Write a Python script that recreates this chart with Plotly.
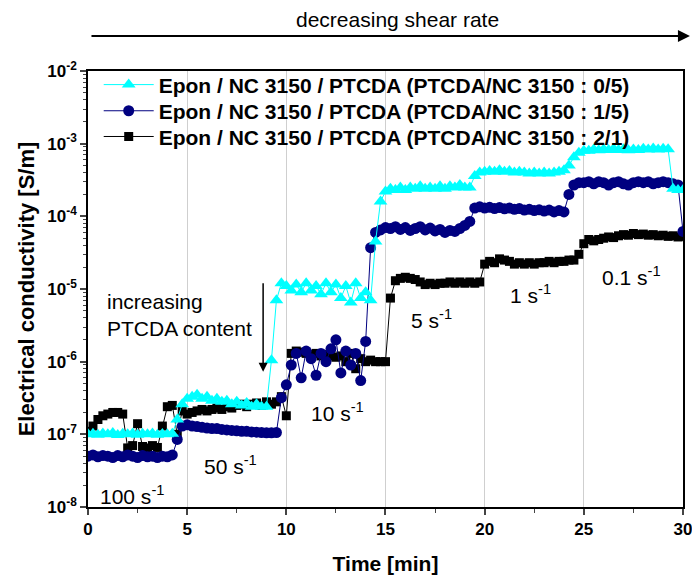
import plotly.graph_objects as go

# waktu pengukuran [min]
time_min = [
    0.0, 0.25, 0.5, 0.75, 1.0, 1.25, 1.5, 1.75, 2.0, 2.25, 2.5, 2.75, 3.0, 3.25, 3.5, 3.75, 4.0, 4.25,
    4.5, 4.75, 5.0, 5.25, 5.5, 5.75, 6.0, 6.25, 6.5, 6.75, 7.0, 7.25, 7.5, 7.75, 8.0, 8.25, 8.5, 8.75, 9.0, 9.25,
    9.5, 9.75, 10.0, 10.25, 10.5, 10.75, 11.0, 11.25, 11.5, 11.75, 12.0, 12.25, 12.5, 12.75, 13.0, 13.25, 13.5, 13.75, 14.0, 14.25,
    14.5, 14.75, 15.0, 15.25, 15.5, 15.75, 16.0, 16.25, 16.5, 16.75, 17.0, 17.25, 17.5, 17.75, 18.0, 18.25, 18.5, 18.75, 19.0, 19.25,
    19.5, 19.75, 20.0, 20.25, 20.5, 20.75, 21.0, 21.25, 21.5, 21.75, 22.0, 22.25, 22.5, 22.75, 23.0, 23.25, 23.5, 23.75, 24.0, 24.25,
    24.5, 24.75, 25.0, 25.25, 25.5, 25.75, 26.0, 26.25, 26.5, 26.75, 27.0, 27.25, 27.5, 27.75, 28.0, 28.25, 28.5, 28.75, 29.0, 29.25,
    29.5, 29.75, 30.0,
]

# PTCDA/NC 3150 : 0/5
cond_0_5 = [
    1.00e-7, 1.02e-7, 0.99e-7, 1.03e-7, 1.00e-7, 1.04e-7, 0.98e-7, 1.02e-7, 1.00e-7, 1.03e-7, 0.99e-7, 1.02e-7, 1.00e-7, 1.03e-7, 0.99e-7, 1.01e-7, 1.00e-7, 1.02e-7,
    1.6e-7, 2.6e-7, 3.1e-7, 3.3e-7, 3.5e-7, 3.1e-7, 3.3e-7, 2.9e-7, 3.1e-7, 2.8e-7, 2.9e-7, 2.6e-7, 2.8e-7, 2.5e-7, 2.7e-7, 2.4e-7, 2.6e-7, 2.4e-7, 2.4e-7, 1.05e-6,
    7.0e-6, 1.2e-5, 1.1e-5, 9.5e-6, 1.15e-5, 9.0e-6, 1.2e-5, 9.5e-6, 1.1e-5, 8.5e-6, 1.2e-5, 9.0e-6, 1.15e-5, 7.5e-6, 1.1e-5, 6.5e-6, 1.2e-5, 7.5e-6, 9.0e-6, 7.0e-6,
    4.5e-5, 1.6e-4, 2.2e-4, 2.4e-4, 2.3e-4, 2.5e-4, 2.3e-4, 2.5e-4, 2.4e-4, 2.6e-4, 2.4e-4, 2.5e-4, 2.4e-4, 2.6e-4, 2.4e-4, 2.6e-4, 2.5e-4, 2.7e-4, 2.5e-4, 2.5e-4,
    3.6e-4, 4.0e-4, 4.1e-4, 4.2e-4, 4.1e-4, 4.3e-4, 4.1e-4, 4.2e-4, 4.0e-4, 4.1e-4, 4.0e-4, 3.9e-4, 4.0e-4, 3.9e-4, 4.0e-4, 3.9e-4, 4.0e-4, 4.1e-4, 4.3e-4, 5.0e-4,
    6.5e-4, 7.5e-4, 8.0e-4, 8.0e-4, 8.3e-4, 8.1e-4, 8.4e-4, 8.2e-4, 8.5e-4, 8.2e-4, 8.4e-4, 8.1e-4, 8.3e-4, 8.2e-4, 8.5e-4, 8.3e-4, 8.6e-4, 8.3e-4, 8.5e-4, 8.4e-4,
    2.4e-4, 2.3e-4, 2.3e-4,
]

# PTCDA/NC 3150 : 1/5
cond_1_5 = [
    5.0e-8, 5.2e-8, 4.9e-8, 5.1e-8, 5.0e-8, 4.8e-8, 5.1e-8, 4.9e-8, 5.2e-8, 5.0e-8, 4.8e-8, 5.1e-8, 4.9e-8, 5.0e-8, 4.8e-8, 5.0e-8, 4.9e-8, 5.2e-8,
    8.5e-8, 1.3e-7, 1.35e-7, 1.3e-7, 1.28e-7, 1.25e-7, 1.22e-7, 1.2e-7, 1.2e-7, 1.17e-7, 1.15e-7, 1.13e-7, 1.12e-7, 1.1e-7, 1.1e-7, 1.08e-7, 1.07e-7, 1.06e-7, 1.05e-7, 1.05e-7,
    1.06e-7, 3.2e-7, 4.8e-7, 9.0e-7, 1.3e-6, 6.0e-7, 1.4e-6, 1.1e-6, 6.5e-7, 1.3e-6, 1.0e-6, 1.5e-6, 2.0e-6, 7.0e-7, 1.4e-6, 9.0e-7, 1.3e-6, 5.5e-7, 1.9e-6, 3.7e-5,
    6.0e-5, 6.5e-5, 7.0e-5, 6.8e-5, 7.2e-5, 6.6e-5, 7.0e-5, 6.4e-5, 6.8e-5, 7.2e-5, 6.5e-5, 6.9e-5, 6.3e-5, 6.6e-5, 6.0e-5, 6.4e-5, 6.2e-5, 6.8e-5, 7.5e-5, 8.5e-5,
    1.3e-4, 1.35e-4, 1.3e-4, 1.33e-4, 1.28e-4, 1.32e-4, 1.27e-4, 1.3e-4, 1.25e-4, 1.28e-4, 1.22e-4, 1.25e-4, 1.2e-4, 1.23e-4, 1.18e-4, 1.22e-4, 1.15e-4, 1.2e-4, 1.15e-4, 2.0e-4,
    2.7e-4, 2.9e-4, 2.9e-4, 3.0e-4, 2.8e-4, 3.0e-4, 2.9e-4, 2.7e-4, 2.9e-4, 3.0e-4, 2.8e-4, 2.7e-4, 2.9e-4, 3.0e-4, 2.9e-4, 3.0e-4, 2.8e-4, 2.9e-4, 3.0e-4, 2.9e-4,
    2.8e-4, 2.7e-4, 6.2e-5,
]

# PTCDA/NC 3150 : 2/1
cond_2_1 = [
    1.1e-7, 1.3e-7, 1.6e-7, 1.8e-7, 1.9e-7, 2.0e-7, 2.0e-7, 1.9e-7, 6.5e-8, 7.0e-8, 1.4e-7, 6.8e-8, 6.5e-8, 7.0e-8, 6.6e-8, 1.3e-7, 2.4e-7, 2.5e-7,
    1.0e-7, 2.1e-7, 1.9e-7, 2.0e-7, 2.1e-7, 2.2e-7, 2.1e-7, 2.2e-7, 2.3e-7, 2.2e-7, 2.4e-7, 2.3e-7, 2.5e-7, 2.6e-7, 2.4e-7, 2.6e-7, 2.7e-7, 2.5e-7, 2.8e-7, 2.6e-7,
    2.8e-7, 3.3e-7, 1.8e-7, 1.3e-6, 1.4e-6, 1.35e-6, 1.3e-6, 1.25e-6, 1.3e-6, 1.2e-6, 1.25e-6, 1.2e-6, 1.15e-6, 1.2e-6, 1.0e-6, 1.3e-6, 8.0e-7, 1.1e-6, 1.0e-6, 1.05e-6,
    1.0e-6, 1.0e-6, 1.0e-6, 7.5e-6, 1.3e-5, 1.4e-5, 1.45e-5, 1.4e-5, 1.35e-5, 1.25e-5, 1.15e-5, 1.2e-5, 1.15e-5, 1.2e-5, 1.2e-5, 1.25e-5, 1.2e-5, 1.25e-5, 1.2e-5, 1.25e-5,
    1.2e-5, 1.25e-5, 2.2e-5, 2.4e-5, 2.3e-5, 2.6e-5, 2.5e-5, 2.4e-5, 2.2e-5, 2.3e-5, 2.2e-5, 2.3e-5, 2.2e-5, 2.3e-5, 2.3e-5, 2.4e-5, 2.3e-5, 2.4e-5, 2.4e-5, 2.5e-5,
    2.5e-5, 3.0e-5, 4.2e-5, 4.8e-5, 4.6e-5, 4.8e-5, 5.0e-5, 5.2e-5, 5.1e-5, 5.4e-5, 5.6e-5, 5.5e-5, 5.8e-5, 5.6e-5, 5.7e-5, 5.5e-5, 5.6e-5, 5.4e-5, 5.5e-5, 5.3e-5,
    5.4e-5, 5.2e-5, 5.3e-5,
]

series_names = [
    "Epon / NC 3150 / PTCDA (PTCDA/NC 3150 : 2/1)",
    "Epon / NC 3150 / PTCDA (PTCDA/NC 3150 : 1/5)",
    "Epon / NC 3150 / PTCDA (PTCDA/NC 3150 : 0/5)",
]
shear_labels = ["100 s<sup>-1</sup>", "50 s<sup>-1</sup>", "10 s<sup>-1</sup>",
                "5 s<sup>-1</sup>", "1 s<sup>-1</sup>", "0.1 s<sup>-1</sup>"]
y_tick_vals = [1e-8, 1e-7, 1e-6, 1e-5, 1e-4, 1e-3, 1e-2]
y_tick_text = ["10<sup>-8</sup>", "10<sup>-7</sup>", "10<sup>-6</sup>", "10<sup>-5</sup>",
               "10<sup>-4</sup>", "10<sup>-3</sup>", "10<sup>-2</sup>"]

FONT = "Liberation Sans, Arial, sans-serif"

fig = go.Figure()

# satu legenda per seri supaya jarak baris bisa diatur
styles = [
    (cond_2_1, "black", "square", 9, "legend3"),
    (cond_1_5, "#000080", "circle", 11, "legend2"),
    (cond_0_5, "#00ffff", "triangle-up", 12, "legend"),
]
for name, (vals, col, sym, sz, lg) in zip(series_names, styles):
    fig.add_trace(go.Scatter(
        x=time_min, y=vals, name=name, mode="lines+markers",
        line=dict(color=col, width=1),
        marker=dict(color=col, symbol=sym, size=sz, line=dict(width=0)),
        legend=lg,
    ))

# minor ticks log
minor_y = [m * 10.0 ** e for e in range(-8, -2) for m in range(2, 10)]

leg_style = dict(x=0.018, xanchor="left", yanchor="middle", bgcolor="rgba(0,0,0,0)",
                 font=dict(size=21, weight="bold"), itemwidth=50)

fig.update_layout(
    width=692, height=575,
    margin=dict(l=88, r=9, t=71, b=68),
    paper_bgcolor="white", plot_bgcolor="white",
    font=dict(family=FONT, color="black"),
    showlegend=True,
    legend=dict(y=0.968, **leg_style),
    legend2=dict(y=0.908, **leg_style),
    legend3=dict(y=0.849, **leg_style),
    xaxis=dict(
        range=[0, 30.001], tickvals=[0, 5, 10, 15, 20, 25, 30],
        ticks="outside", ticklen=6, tickwidth=1.5,
        minor=dict(ticks="outside", ticklen=4, dtick=2.5, tickwidth=1.2, showgrid=False),
        showgrid=True, gridcolor="#cfcfcf", gridwidth=1,
        showline=True, linecolor="black", linewidth=1.5, mirror=True,
        zeroline=False, automargin=False, ticklabeloverflow="allow",
        tickfont=dict(size=17, weight="bold"),
        title=dict(text="Time [min]", font=dict(size=21, weight="bold"), standoff=18),
    ),
    yaxis=dict(
        type="log", range=[-8, -2],
        tickvals=y_tick_vals, ticktext=y_tick_text,
        ticks="outside", ticklen=6, tickwidth=1.5,
        minor=dict(ticks="outside", ticklen=3, tickvals=minor_y, tickwidth=1, showgrid=False),
        showgrid=False,
        showline=True, linecolor="black", linewidth=1.5, mirror=True,
        zeroline=False, automargin=False,
        tickfont=dict(size=17, weight="bold"),
        title=dict(text="Electrical conductivity [S/m]", font=dict(size=22, weight="bold"), standoff=7),
    ),
)

# label shear rate
label_pos = [(2.2, -7.83), (7.2, -7.42), (12.6, -6.69), (17.3, -5.41), (22.3, -5.07), (27.4, -4.82)]
for txt, (tx, ty) in zip(shear_labels, label_pos):
    fig.add_annotation(x=tx, y=ty, xref="x", yref="y", text=txt, showarrow=False,
                       font=dict(size=21, family=FONT, color="black"))

fig.add_annotation(x=0.86, y=-5.355, xref="x", yref="y", xanchor="left",
                   text="increasing<br>PTCDA content", align="left", showarrow=False,
                   font=dict(size=21, family=FONT, color="black"))
fig.add_annotation(x=8.83, y=-6.14, xref="x", yref="y", ax=8.83, ay=-4.9,
                   axref="x", ayref="y", text="", showarrow=True,
                   arrowhead=2, arrowsize=1.2, arrowwidth=1.5, arrowcolor="black")

# panah atas
fig.add_annotation(x=0.521, y=1.119, xref="paper", yref="paper", yanchor="middle",
                   text="decreasing shear rate",
                   showarrow=False, font=dict(size=21, family=FONT, color="black"))
fig.add_annotation(x=30.35, y=1.08, xref="x", yref="paper", ax=0.1, ay=0,
                   axref="x", ayref="pixel", text="", showarrow=True,
                   arrowhead=2, arrowsize=1.2, arrowwidth=2, arrowcolor="black")

# hilangkan margin bawaan body supaya figur pas di jendela
fig.write_html("out.html", config={"displayModeBar": False},
               post_script="document.body.style.margin='0';document.body.style.overflow='hidden';")
